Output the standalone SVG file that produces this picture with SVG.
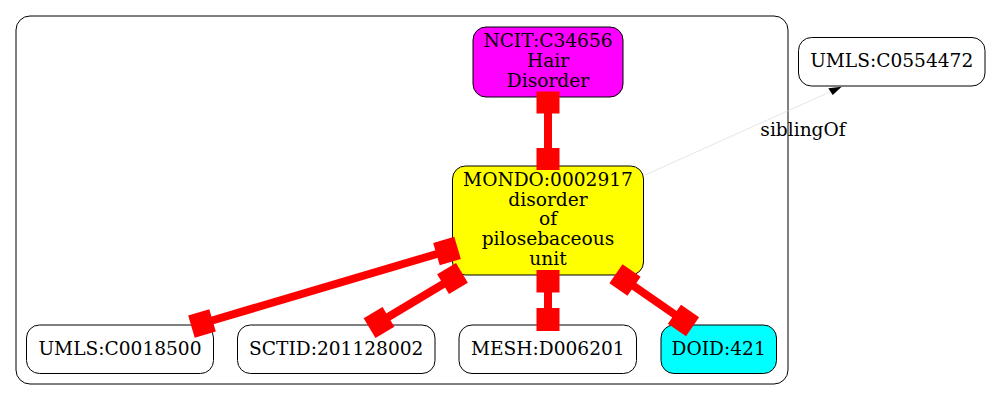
<svg xmlns="http://www.w3.org/2000/svg" width="991" height="400" viewBox="0 0 991 400">
<style>
text{font-family:"DejaVu Serif","Liberation Serif",serif;font-size:18.6px;text-anchor:middle;fill:#000}
.n{stroke:#000;stroke-width:1}
.e{stroke:#ff0000;stroke-width:8;fill:none}
.b{fill:#ff0000}
</style>
<rect width="991" height="400" fill="#fff"/>
<g id="cluster"><rect x="16" y="16" width="772" height="368" rx="14" fill="none" stroke="#000" stroke-width="1"/></g>
<g id="NCIT_C34656"><rect class="n" x="473" y="27" width="150" height="70" rx="13" fill="#ff00ff"/>
<text x="548" y="47">NCIT:C34656</text><text x="548" y="67">Hair</text><text x="548" y="87">Disorder</text></g>
<g id="MONDO_0002917"><rect class="n" x="452.5" y="166" width="191" height="109" rx="13" fill="#ffff00"/>
<text x="548" y="186">MONDO:0002917</text><text x="548" y="205.5">disorder</text><text x="548" y="225">of</text><text x="548" y="245">pilosebaceous</text><text x="548" y="265">unit</text></g>
<g id="UMLS_C0554472"><rect class="n" x="798.5" y="37.5" width="186.5" height="48.5" rx="13" fill="#fff"/><text x="891.7" y="67">UMLS:C0554472</text></g>
<g id="UMLS_C0018500"><rect class="n" x="26.5" y="325" width="187" height="48.5" rx="13" fill="#fff"/><text x="120" y="354.5">UMLS:C0018500</text></g>
<g id="SCTID_201128002"><rect class="n" x="237.5" y="325" width="197.5" height="48.5" rx="13" fill="#fff"/><text x="336.2" y="354.5">SCTID:201128002</text></g>
<g id="MESH_D006201"><rect class="n" x="459" y="325" width="177.5" height="48.5" rx="13" fill="#fff"/><text x="547.8" y="354.5">MESH:D006201</text></g>
<g id="DOID_421"><rect class="n" x="661" y="325" width="115.5" height="48.5" rx="13" fill="#00ffff"/><text x="718.7" y="354.5">DOID:421</text></g>
<g id="connectors">
<line class="e" x1="548" y1="102.5" x2="548" y2="159"/>
<rect class="b" x="536.5" y="91.5" width="23" height="22"/>
<rect class="b" x="536.5" y="148" width="23" height="22"/>
<line class="e" x1="548" y1="281" x2="548" y2="319.5"/>
<rect class="b" x="536.5" y="270" width="23" height="22.5"/>
<rect class="b" x="536.5" y="308" width="23" height="23"/>
<line class="e" x1="447" y1="251" x2="202" y2="323.5"/>
<rect class="b" x="-11" y="-11.5" width="22" height="23" transform="translate(447 251) rotate(163.5)"/>
<rect class="b" x="-11" y="-11.5" width="22" height="23" transform="translate(202 323.5) rotate(163.5)"/>
<line class="e" x1="452.5" y1="278.5" x2="379" y2="322.5"/>
<rect class="b" x="-11" y="-11.5" width="22" height="23" transform="translate(452.5 278.5) rotate(149.1)"/>
<rect class="b" x="-11" y="-11.5" width="22" height="23" transform="translate(379 322.5) rotate(149.1)"/>
<line class="e" x1="625" y1="280" x2="683.5" y2="320.5"/>
<rect class="b" x="-11" y="-11.5" width="22" height="23" transform="translate(625 280) rotate(34.7)"/>
<rect class="b" x="-11" y="-11.5" width="22" height="23" transform="translate(683.5 320.5) rotate(34.7)"/>
<line x1="645" y1="175" x2="830.5" y2="91.7" stroke="#d3d3d3" stroke-width="0.6"/>
<polygon points="841.7,86.7 828.3,88.3 832.7,95" fill="#000"/>
<text x="803" y="136">siblingOf</text>
</g>
</svg>
